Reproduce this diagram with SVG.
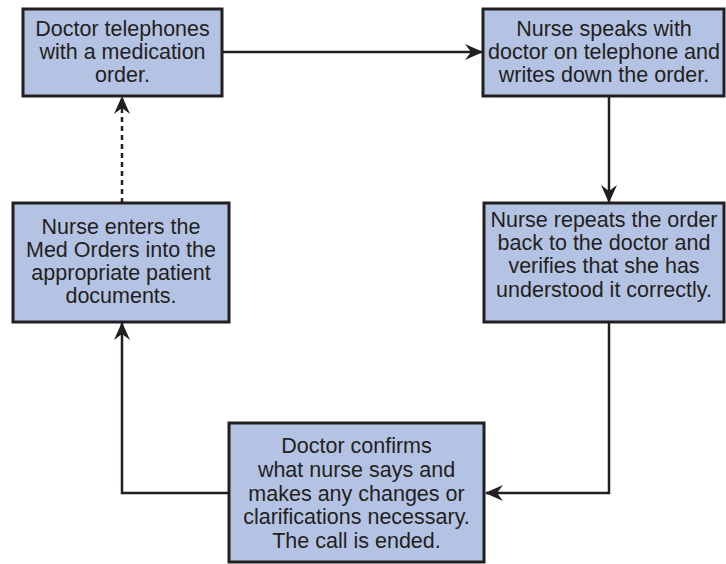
<svg xmlns="http://www.w3.org/2000/svg" width="726" height="564" viewBox="0 0 726 564">
  <style>
    .box { fill: #b4c3e3; stroke: #231f20; stroke-width: 3; }
    .lbl { font-family: "Liberation Sans", Arial, sans-serif; font-size: 21.5px; fill: #231f20; text-anchor: middle; }
    .conn { fill: none; stroke: #231f20; stroke-width: 2.5; }
    .dash { stroke-dasharray: 5 4; }
  </style>
  <defs>
    <marker id="arrow" viewBox="0 0 18 16" refX="17" refY="8" markerWidth="18" markerHeight="16" markerUnits="userSpaceOnUse" orient="auto">
      <path d="M0,0 L18,8 L0,16 L6,8 Z" fill="#231f20"/>
    </marker>
  </defs>
  <rect width="726" height="564" fill="#ffffff"/>

  <g id="connectors">
    <path class="conn" d="M222,52 H482" marker-end="url(#arrow)"/>
    <path class="conn" d="M609,96 V202" marker-end="url(#arrow)"/>
    <path class="conn" d="M609,322 V493 H486" marker-end="url(#arrow)"/>
    <path class="conn" d="M229,493 H122 V323" marker-end="url(#arrow)"/>
    <path class="conn dash" d="M122,203 V97" marker-end="url(#arrow)"/>
  </g>

  <g id="node1">
    <rect class="box" x="23" y="9" width="199" height="87"/>
    <text class="lbl" x="122.5" y="36">Doctor telephones</text>
    <text class="lbl" x="122.5" y="59">with a medication</text>
    <text class="lbl" x="122.5" y="82">order.</text>
  </g>

  <g id="node2">
    <rect class="box" x="483" y="9" width="241" height="87"/>
    <text class="lbl" x="604" y="36">Nurse speaks with</text>
    <text class="lbl" x="604" y="59">doctor on telephone and</text>
    <text class="lbl" x="604" y="82">writes down the order.</text>
  </g>

  <g id="node3">
    <rect class="box" x="13" y="203" width="216" height="119"/>
    <text class="lbl" x="121" y="234">Nurse enters the</text>
    <text class="lbl" x="121" y="257">Med Orders into the</text>
    <text class="lbl" x="121" y="280">appropriate patient</text>
    <text class="lbl" x="121" y="303">documents.</text>
  </g>

  <g id="node4">
    <rect class="box" x="484" y="203" width="240" height="119"/>
    <text class="lbl" x="604" y="227">Nurse repeats the order</text>
    <text class="lbl" x="604" y="250">back to the doctor and</text>
    <text class="lbl" x="604" y="273">verifies that she has</text>
    <text class="lbl" x="604" y="297">understood it correctly.</text>
  </g>

  <g id="node5">
    <rect class="box" x="229" y="423" width="255" height="139"/>
    <text class="lbl" x="356.5" y="453">Doctor confirms</text>
    <text class="lbl" x="356.5" y="477">what nurse says and</text>
    <text class="lbl" x="356.5" y="501">makes any changes or</text>
    <text class="lbl" x="356.5" y="524">clarifications necessary.</text>
    <text class="lbl" x="356.5" y="548">The call is ended.</text>
  </g>
</svg>
